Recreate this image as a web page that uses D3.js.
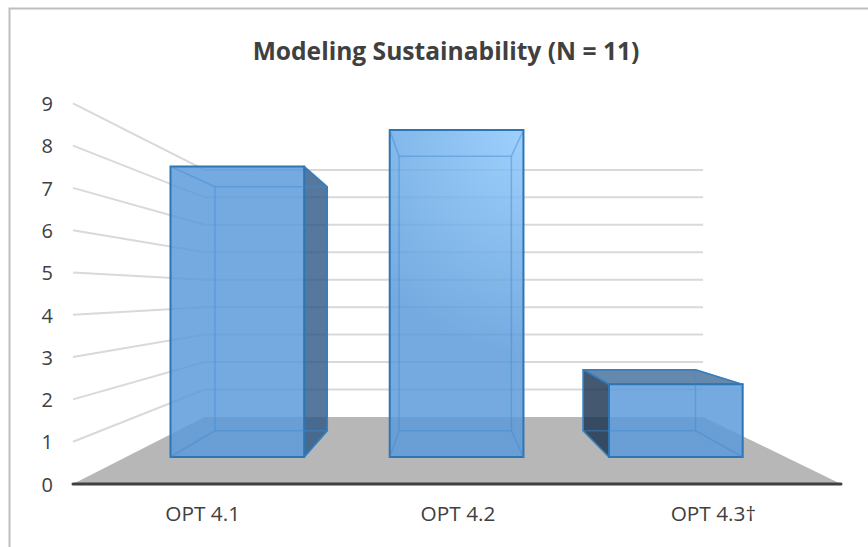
<!DOCTYPE html>
<html>
<head>
<meta charset="utf-8">
<script src="https://cdn.jsdelivr.net/npm/d3@7"></script>
<style>
  html, body { margin: 0; padding: 0; background: #fff; }
  svg { display: block; }
  text { font-family: "Open Sans", sans-serif; fill: #404040; }
</style>
</head>
<body>
<script>
var categories = ['OPT 4.1', 'OPT 4.2', 'OPT 4.3\u2020'];
var values = [8, 9, 2];
var yTicks = [0, 1, 2, 3, 4, 5, 6, 7, 8, 9];
var chartTitle = 'Modeling Sustainability (N = 11)';

var
  width = 868,
  height = 547,
  axisY = 484,
  xLeft = 73,
  xRight = 841,
  // vanishing point of the 3-d box and depth factors (front wall = 1)
  vanish = {x: 448, y: 293},
  depth = {wall: 0.649, barFront: 0.8586, barBack: 0.721},
  xScale = d3.scaleBand().domain(categories).range([75, 841]).paddingInner(0.39).paddingOuter(0.195),
  yScale = d3.scaleLinear().domain([0, 9]).range([axisY, 103.3]),
  svg = d3.select('body').append('svg').attr('width', width).attr('height', height),
  defs = svg.append('defs')
  ;

// world x / value + depth factor -> screen point
function project(x, v, s){
  return [vanish.x + (x - vanish.x) * s, vanish.y + (yScale(v) - vanish.y) * s];
}

function poly(points){
  return d3.line()(points) + 'Z';
}

var glow = defs.append('radialGradient')
  .attr('id', 'barFill')
  .attr('gradientUnits', 'userSpaceOnUse')
  .attr('cx', 545).attr('cy', 125).attr('r', 230);
glow.append('stop').attr('offset', '0%').attr('stop-color', '#8fcbff');
glow.append('stop').attr('offset', '100%').attr('stop-color', '#5a9ada');

// frame, only top and left are drawn in the reference
svg.append('path')
  .attr('d', 'M9.5,' + height + 'V8.5H' + width)
  .attr('fill', 'none')
  .attr('stroke', '#bfbfbf')
  .attr('stroke-width', 2);

svg.append('text')
  .attr('x', 446)
  .attr('y', 60)
  .attr('text-anchor', 'middle')
  .attr('font-size', 24.6)
  .attr('font-weight', 700)
  .text(chartTitle);

// floor
svg.append('path')
  .attr('d', poly([
    project(xLeft, 0, 1), project(xLeft, 0, depth.wall),
    project(xRight, 0, depth.wall), project(xRight, 0, 1)
  ]))
  .attr('fill', '#b7b7b7');

// gridlines: side wall then back wall
svg.append('g').selectAll('path')
  .data(yTicks.slice(1))
  .join('path')
  .attr('d', function(d){
    return d3.line()([project(xLeft, d, 1), project(xLeft, d, depth.wall), project(xRight, d, depth.wall)]);
  })
  .attr('fill', 'none')
  .attr('stroke', '#d9d9d9')
  .attr('stroke-width', 2);

function drawBar(g, d){
  var
    x0 = xScale(d.cat),
    x1 = x0 + xScale.bandwidth(),
    f = depth.barFront,
    b = depth.barBack,
    faces = [],
    lightEdges = [
      [project(x0, 0, b), project(x1, 0, b), project(x1, d.val, b), project(x0, d.val, b), project(x0, 0, b)],
      [project(x0, 0, f), project(x0, 0, b)],
      [project(x1, 0, f), project(x1, 0, b)],
      [project(x0, d.val, f), project(x0, d.val, b)],
      [project(x1, d.val, f), project(x1, d.val, b)]
    ]
    ;

  // which outer faces show depends on where the bar sits against the vanishing point
  if(project(x0, 0, b)[0] < project(x0, 0, f)[0]){
    faces.push({fill: '#152e4b', pts: [project(x0, 0, f), project(x0, 0, b), project(x0, d.val, b), project(x0, d.val, f)]});
  }
  if(project(x1, 0, b)[0] > project(x1, 0, f)[0]){
    faces.push({fill: '#2c5683', pts: [project(x1, 0, f), project(x1, 0, b), project(x1, d.val, b), project(x1, d.val, f)]});
  }
  if(project(x0, d.val, b)[1] < project(x0, d.val, f)[1]){
    faces.push({fill: '#3f6c99', pts: [project(x0, d.val, f), project(x0, d.val, b), project(x1, d.val, b), project(x1, d.val, f)]});
  }

  g.selectAll('path.side')
    .data(faces)
    .join('path')
    .attr('class', 'side')
    .attr('d', function(e){ return poly(e.pts); })
    .attr('fill', function(e){ return e.fill; })
    .attr('fill-opacity', 0.8)
    .attr('stroke', '#2e75b6')
    .attr('stroke-width', 1.5)
    .attr('stroke-linejoin', 'round');

  g.append('path')
    .attr('d', poly([project(x0, 0, f), project(x1, 0, f), project(x1, d.val, f), project(x0, d.val, f)]))
    .attr('fill', 'url(#barFill)')
    .attr('fill-opacity', 0.84)
    .attr('stroke', '#2e75b6')
    .attr('stroke-width', 2);

  g.selectAll('path.inner')
    .data(lightEdges)
    .join('path')
    .attr('class', 'inner')
    .attr('d', function(e){ return d3.line()(e); })
    .attr('fill', 'none')
    .attr('stroke', '#3f8ad2')
    .attr('stroke-opacity', 0.45)
    .attr('stroke-width', 1.5);
}

categories.forEach(function(c, i){
  svg.append('g').attr('class', 'bar').call(drawBar, {cat: c, val: values[i]});
});

// base line
svg.append('line')
  .attr('x1', xLeft).attr('x2', xRight)
  .attr('y1', axisY).attr('y2', axisY)
  .attr('stroke', '#404040')
  .attr('stroke-width', 3)
  .attr('stroke-linecap', 'round');

var axisLeft = svg.append('g')
  .attr('transform', 'translate(' + xLeft + ',0)')
  .call(d3.axisLeft(yScale).tickValues(yTicks).tickFormat(d3.format('d')).tickSize(0).tickPadding(20));

var axisBottom = svg.append('g')
  .attr('transform', 'translate(0,' + axisY + ')')
  .call(d3.axisBottom(xScale).tickSize(0).tickPadding(22));

axisLeft.select('.domain').remove();
axisBottom.select('.domain').remove();
axisLeft.selectAll('text').attr('font-size', 20).attr('dy', '0.36em');
axisBottom.selectAll('text').attr('font-size', 20.8);
</script>
</body>
</html>
